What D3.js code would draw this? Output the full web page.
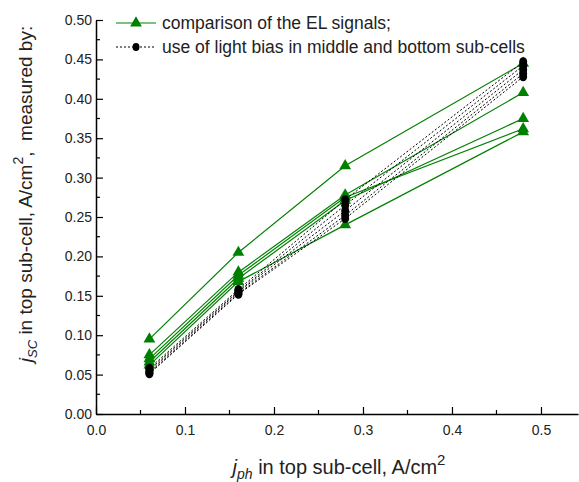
<!DOCTYPE html>
<html>
<head>
<meta charset="utf-8">
<script src="https://cdn.jsdelivr.net/npm/d3@7/dist/d3.min.js"></script>
<style>
  body { margin: 0; background: #fff; }
  svg { display: block; font-family: "Liberation Sans", Arial, sans-serif; }
</style>
</head>
<body>
<div id="chart"></div>
<script>
// x positions (j_ph, A/cm2)
const jph = [0.06, 0.16, 0.28, 0.48];

// comparison of the EL signals (green triangles)
const elSeries = [
    [0.095, 0.205, 0.315, 0.445],
    [0.075, 0.180, 0.278, 0.408],
    [0.070, 0.176, 0.275, 0.362],
    [0.066, 0.172, 0.271, 0.375],
    [0.062, 0.168, 0.240, 0.358]
];

// light bias in middle and bottom sub-cells (black circles)
const biasSeries = [
    [0.058, 0.158, 0.272, 0.447],
    [0.056, 0.156, 0.265, 0.442],
    [0.054, 0.155, 0.258, 0.437],
    [0.052, 0.153, 0.252, 0.432],
    [0.051, 0.152, 0.248, 0.428]
];

const xTicks = [0.0, 0.1, 0.2, 0.3, 0.4, 0.5];
const yTicks = [0.00, 0.05, 0.10, 0.15, 0.20, 0.25, 0.30, 0.35, 0.40, 0.45, 0.50];
const legendLabels = ['comparison of the EL signals;', 'use of light bias in middle and bottom sub-cells'];

const width = 579, height = 482;
const green = '#008000';

const svg = d3.select('#chart').append('svg')
    .attr('width', width)
    .attr('height', height);

// scales
const x = d3.scaleLinear().domain([0, 0.5416]).range([96, 578]);
const y = d3.scaleLinear().domain([0, 0.5]).range([414, 20]);

// lines
const line = d3.line()
    .x((d, i) => x(jph[i]))
    .y(d => y(d));

svg.append('g').selectAll('path')
    .data(elSeries)
    .enter().append('path')
    .attr('d', line)
    .attr('fill', 'none')
    .attr('stroke', green)
    .attr('stroke-width', 1.2);

svg.append('g').selectAll('path')
    .data(biasSeries)
    .enter().append('path')
    .attr('d', line)
    .attr('fill', 'none')
    .attr('stroke', '#000')
    .attr('stroke-width', 1)
    .attr('stroke-dasharray', '2,2');

// markers
const tri = d3.symbol().type(d3.symbolTriangle).size(60);

elSeries.forEach(s => {
    svg.append('g').selectAll('path')
        .data(s)
        .enter().append('path')
        .attr('d', tri)
        .attr('transform', (d, i) => `translate(${x(jph[i])},${y(d)})`)
        .attr('fill', green);
});

biasSeries.forEach(s => {
    svg.append('g').selectAll('ellipse')
        .data(s)
        .enter().append('ellipse')
        .attr('cx', (d, i) => x(jph[i]))
        .attr('cy', d => y(d))
        .attr('rx', 4)
        .attr('ry', 4.5)
        .attr('fill', '#000');
});

// axes - ticks point inward
const xAxis = d3.axisBottom(x)
    .tickValues(xTicks)
    .tickFormat(d3.format('.1f'))
    .tickSizeInner(-7)
    .tickSizeOuter(0)
    .tickPadding(11);

const gx = svg.append('g')
    .attr('transform', `translate(0,${y(0)})`)
    .call(xAxis);

const yAxis = d3.axisLeft(y)
    .tickValues(yTicks)
    .tickFormat(d3.format('.2f'))
    .tickSizeInner(-7)
    .tickSizeOuter(0)
    .tickPadding(4);

const gy = svg.append('g')
    .attr('transform', `translate(${x(0)},0)`)
    .call(yAxis);

[gx, gy].forEach(g => {
    g.select('.domain').attr('stroke', '#000').attr('stroke-width', 1.5);
    g.selectAll('.tick line').attr('stroke', '#000').attr('stroke-width', 1.2);
    g.selectAll('.tick text').attr('font-size', 14).attr('fill', '#222')
        .attr('font-family', '"Liberation Sans", Arial, sans-serif');
});

// minor ticks
const xMinor = d3.range(0.05, 0.55, 0.1);
svg.append('g').selectAll('line')
    .data(xMinor)
    .enter().append('line')
    .attr('x1', d => x(d)).attr('x2', d => x(d))
    .attr('y1', y(0)).attr('y2', y(0) - 4)
    .attr('stroke', '#000').attr('stroke-width', 1.2);

const yMinor = d3.range(0.025, 0.5, 0.05);
svg.append('g').selectAll('line')
    .data(yMinor)
    .enter().append('line')
    .attr('x1', x(0)).attr('x2', x(0) + 4)
    .attr('y1', d => y(d)).attr('y2', d => y(d))
    .attr('stroke', '#000').attr('stroke-width', 1.2);

// legend
const legend = svg.append('g');
legendLabels.forEach((label, i) => {
    const ly = 23 + i * 24;
    const g = legend.append('g');
    if (i === 0) {
        g.append('line').attr('x1', 116).attr('x2', 156).attr('y1', ly).attr('y2', ly)
            .attr('stroke', green).attr('stroke-width', 1.2);
        g.append('path').attr('d', tri).attr('transform', `translate(136,${ly})`).attr('fill', green);
    } else {
        g.append('line').attr('x1', 116).attr('x2', 156).attr('y1', ly).attr('y2', ly)
            .attr('stroke', '#000').attr('stroke-width', 1).attr('stroke-dasharray', '2,2');
        g.append('ellipse').attr('cx', 136).attr('cy', ly).attr('rx', 3.5).attr('ry', 4).attr('fill', '#000');
    }
    g.append('text')
        .attr('x', 162).attr('y', ly + 6)
        .attr('font-size', 17.5).attr('fill', '#222')
        .text(label);
});

// axis titles
const xTitle = svg.append('text')
    .attr('x', 339).attr('y', 474)
    .attr('text-anchor', 'middle')
    .attr('font-size', 20).attr('fill', '#222');
xTitle.append('tspan').attr('font-style', 'italic').text('j');
xTitle.append('tspan').attr('font-style', 'italic').attr('font-size', 14).attr('dy', 5).text('ph');
xTitle.append('tspan').attr('dy', -5).text(' in top sub-cell, A/cm');
xTitle.append('tspan').attr('font-size', 15).attr('dy', -9).text('2');

const yTitle = svg.append('text')
    .attr('transform', 'translate(32,194) rotate(-90)')
    .attr('text-anchor', 'middle')
    .attr('font-size', 19).attr('fill', '#222')
    .attr('xml:space', 'preserve');
yTitle.append('tspan').attr('font-style', 'italic').text('j');
yTitle.append('tspan').attr('font-style', 'italic').attr('font-size', 13).attr('dy', 5).text('SC');
yTitle.append('tspan').attr('dy', -5).text(' in top sub-cell, A/cm');
yTitle.append('tspan').attr('font-size', 14).attr('dy', -9).text('2');
yTitle.append('tspan').attr('dy', 9).text(',  measured by:');
</script>
</body>
</html>
